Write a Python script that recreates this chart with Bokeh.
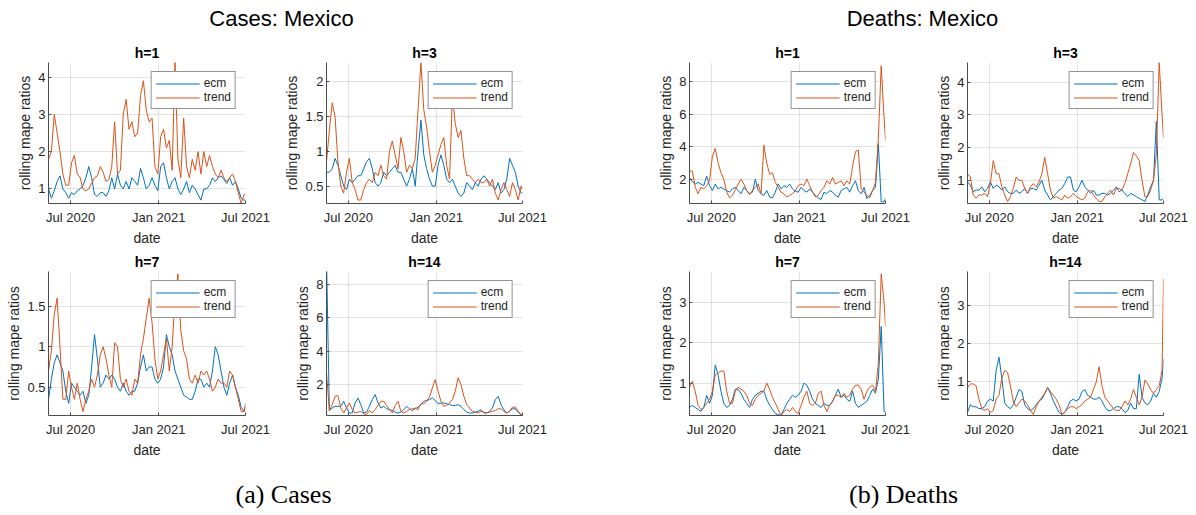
import pandas as pd
from bokeh.plotting import figure
from bokeh.models import Range1d, FixedTicker, DatetimeTickFormatter, NumeralTickFormatter, Label
from bokeh.layouts import row, column
from bokeh.embed import file_html
from bokeh.resources import INLINE

# ---------------- data ----------------
dates = list(pd.date_range("2020-05-16", periods=69, freq="6D")) + [pd.Timestamp("2021-07-01")]
x_start = pd.Timestamp("2020-05-16")
x_end = pd.Timestamp("2021-07-01")
tick_dates = [pd.Timestamp("2020-07-01"), pd.Timestamp("2021-01-01"), pd.Timestamp("2021-07-01")]

cases_h1_ecm = [1.0,0.75,0.95,1.2,1.35,1.0,0.9,0.75,0.9,0.85, 0.95,1.0,1.1,1.3,1.6,1.3,0.85,0.8,0.9,0.9,
                0.8,0.95,1.3,1.0,1.4,1.1,1.0,1.2,1.0,1.3, 1.2,1.1,1.55,1.3,1.0,1.1,1.3,1.1,0.95,1.6,
                1.7,1.3,1.0,1.2,1.3,1.0,0.85,1.0,1.2,0.9, 1.1,1.0,0.85,0.7,1.0,1.0,1.1,1.3,1.2,1.3,
                1.35,1.25,1.15,1.3,1.1,1.2,1.0,0.75,0.7,0.7]
cases_h1_trend = [1.8,2.0,3.0,2.5,2.0,1.4,1.1,1.1,1.7,1.9, 1.4,1.3,1.0,0.95,1.0,1.15,1.3,1.35,1.6,1.45,
                  1.2,1.25,1.6,2.8,1.4,1.5,3.0,3.4,2.6,2.8, 2.4,2.5,3.5,3.9,3.1,2.8,2.9,1.6,1.4,2.4,
                  2.6,2.1,2.3,1.5,4.4,1.8,1.3,2.9,1.6,1.3, 1.8,1.5,2.0,1.4,2.0,1.6,1.9,1.6,1.4,1.3,
                  1.5,1.3,1.2,1.3,1.4,1.2,0.9,0.6,0.85,0.85]

cases_h3_ecm = [0.7,0.7,0.75,0.9,0.8,0.65,0.5,0.45,0.6,0.55, 0.6,0.65,0.65,0.75,0.85,0.9,0.75,0.55,0.5,0.55,
                0.7,0.65,0.7,0.75,0.8,0.7,0.7,0.6,0.5,0.6, 0.75,0.5,1.0,1.45,0.95,0.75,0.6,0.5,0.5,0.8,
                0.95,0.8,0.6,0.55,0.6,0.5,0.4,0.35,0.4,0.55, 0.5,0.45,0.55,0.5,0.6,0.65,0.6,0.55,0.5,0.45,
                0.55,0.4,0.45,0.6,0.9,0.8,0.7,0.5,0.4,0.4]
cases_h3_trend = [0.85,1.3,1.7,1.5,0.85,0.5,0.4,0.7,0.9,0.55, 0.45,0.3,0.3,0.45,0.55,0.6,0.55,0.7,0.65,0.8,
                  0.65,0.6,1.0,1.15,0.95,0.75,1.2,1.0,0.7,0.8, 0.75,0.9,1.6,2.28,1.6,1.35,1.0,0.7,0.8,0.95,
                  1.1,1.2,0.8,0.6,1.8,1.4,1.2,1.3,0.9,0.65, 0.65,0.6,0.55,0.6,0.55,0.55,0.6,0.5,0.6,0.4,
                  0.3,0.45,0.55,0.45,0.35,0.55,0.45,0.3,0.5,0.45]

cases_h7_ecm = [0.35,0.6,0.8,0.9,0.8,0.7,0.45,0.3,0.55,0.5, 0.45,0.4,0.45,0.3,0.4,0.75,1.15,0.85,0.5,0.55,
                0.65,0.6,0.65,0.6,0.5,0.45,0.55,0.45,0.4,0.45, 0.45,0.55,0.75,0.9,0.7,0.75,0.75,0.6,0.55,0.6,
                0.75,1.15,1.0,0.9,0.7,0.6,0.5,0.4,0.38,0.35, 0.35,0.45,0.6,0.6,0.5,0.55,0.5,0.7,1.0,0.9,
                0.7,0.5,0.4,0.55,0.65,0.5,0.4,0.25,0.2,0.25]
cases_h7_trend = [0.7,0.95,1.4,1.6,1.0,0.35,0.35,0.7,0.5,0.35, 0.55,0.35,0.2,0.35,0.45,0.6,0.5,0.65,0.9,1.0,
                  0.85,0.65,0.5,1.05,1.0,0.6,0.5,0.6,0.45,0.4, 0.6,0.55,0.9,1.1,1.35,1.6,1.3,0.85,0.6,0.7,
                  0.9,1.1,0.7,1.0,1.6,1.9,1.2,0.95,0.85,0.6, 0.55,0.65,0.55,0.7,0.65,0.7,0.6,0.45,0.5,0.6,
                  0.55,0.55,0.5,0.7,0.65,0.5,0.35,0.2,0.2,0.3]

cases_h14_ecm = [9.5,0.45,0.6,0.7,0.7,0.7,1.0,0.6,0.3,0.3, 0.9,1.2,0.8,0.3,0.35,0.7,1.1,1.4,0.9,0.6,
                 0.7,0.55,0.5,0.45,0.35,0.3,0.35,0.5,0.7,0.55, 0.45,0.55,0.65,0.8,1.0,1.05,1.1,1.2,1.05,0.85,
                 0.9,0.9,0.85,0.8,0.75,0.75,0.8,0.7,0.5,0.35, 0.3,0.3,0.35,0.4,0.5,0.3,0.3,0.4,0.6,1.1,
                 1.3,0.8,0.5,0.3,0.4,0.55,0.55,0.35,0.2,0.15]
cases_h14_trend = [2.7,0.45,0.8,1.3,1.35,0.6,0.3,0.6,0.9,0.5, 0.3,0.35,0.4,0.25,0.2,0.45,0.3,0.5,0.75,1.0,
                   1.0,0.75,0.5,0.3,0.75,1.0,0.4,0.3,0.4,0.5, 0.55,0.6,0.5,0.85,0.85,1.0,1.25,1.8,2.3,1.6,
                   1.0,0.7,0.75,0.9,1.1,1.6,2.4,2.0,1.3,0.8, 0.6,0.4,0.35,0.3,0.4,0.35,0.3,0.35,0.4,0.45,
                   0.55,0.55,0.4,0.3,0.4,0.65,0.65,0.4,0.2,0.15]

deaths_h1_ecm = [2.1,1.85,1.7,1.8,1.7,1.6,2.2,1.6,1.3,1.7, 1.4,1.5,1.4,1.3,1.2,1.4,1.5,1.3,1.1,1.5,
                 1.3,1.1,1.2,2.0,1.3,1.1,1.0,1.3,0.9,0.85, 1.2,1.7,1.4,1.6,1.5,1.7,1.4,1.25,1.2,1.5,
                 1.3,1.2,1.4,1.2,1.0,0.85,0.75,1.2,1.1,1.3, 1.2,1.0,0.9,1.3,1.4,1.5,1.2,1.6,1.9,1.3,
                 1.1,1.5,0.8,1.0,1.3,1.5,4.2,0.6,0.6,0.8]
deaths_h1_trend = [2.5,2.5,1.5,1.1,1.5,1.4,1.6,1.9,3.4,3.9, 3.0,2.4,2.0,1.2,0.85,1.0,1.35,1.7,2.0,1.7,
                   1.3,1.05,1.3,1.5,1.7,1.1,4.1,3.0,2.3,2.4, 1.8,1.5,1.2,1.1,0.9,1.0,1.1,1.3,1.6,1.7,
                   1.6,2.0,1.6,1.2,0.9,1.0,1.3,1.5,1.9,1.7, 2.1,1.7,1.8,1.9,1.6,1.9,1.7,2.8,3.7,3.8,
                   1.4,1.2,1.0,0.85,1.3,1.8,4.5,9.0,5.8,4.4]

deaths_h3_ecm = [0.95,0.85,0.65,0.7,0.7,0.8,0.65,0.75,0.95,0.75, 0.85,0.8,0.7,0.8,0.65,0.6,0.6,0.7,0.6,0.65,
                 0.75,0.6,0.75,0.75,0.7,0.85,1.0,0.7,0.55,0.4, 0.5,0.6,0.7,0.75,0.9,1.1,1.1,0.7,0.65,0.8,
                 1.0,0.8,0.7,0.6,0.7,0.55,0.55,0.6,0.6,0.55, 0.6,0.7,0.8,0.65,0.7,0.6,0.5,0.6,0.55,0.5,
                 0.45,0.4,0.35,0.55,0.8,1.0,2.8,0.4,0.4,0.45]
deaths_h3_trend = [1.2,1.1,0.55,0.45,0.55,0.55,0.6,0.5,0.9,1.6, 1.2,1.2,0.8,0.55,0.35,0.5,0.75,1.1,1.0,1.0,
                   0.75,0.6,0.8,0.9,0.8,0.95,1.2,1.7,1.2,0.7, 0.45,0.5,0.45,0.4,0.55,0.45,0.5,0.6,0.5,0.45,
                   0.4,0.45,0.65,0.7,0.55,0.45,0.35,0.35,0.5,0.6, 0.7,0.55,0.75,0.75,0.7,0.9,1.2,1.5,1.85,1.75,
                   1.6,1.0,0.5,0.5,0.7,1.0,1.8,4.6,3.0,2.3]

deaths_h7_ecm = [0.4,0.45,0.4,0.35,0.3,0.4,0.7,0.5,0.7,1.45, 1.2,0.8,0.5,0.4,0.45,0.6,0.85,0.85,0.75,0.6,
                 0.5,0.4,0.6,0.7,0.75,0.8,0.8,0.6,0.45,0.35, 0.25,0.22,0.2,0.35,0.5,0.6,0.7,0.65,0.7,0.8,
                 1.0,0.95,0.8,0.6,0.5,0.45,0.4,0.5,0.45,0.45, 0.55,0.7,0.85,0.65,0.7,0.6,0.55,0.8,0.5,0.4,
                 0.45,0.5,0.55,0.7,0.85,0.75,1.1,2.4,0.3,0.3]
deaths_h7_trend = [0.9,1.05,0.8,0.45,0.35,0.4,0.5,0.6,0.8,1.2, 1.25,1.3,1.3,0.8,0.5,0.5,0.8,0.9,0.85,0.8,
                   0.7,0.5,0.45,0.6,0.7,0.75,0.8,1.0,0.85,0.65, 0.5,0.35,0.2,0.3,0.35,0.3,0.4,0.3,0.25,0.45,
                   0.65,0.8,0.5,0.45,0.5,0.75,0.8,0.45,0.3,0.45, 0.55,0.7,0.7,0.65,0.75,0.65,0.7,0.85,0.95,0.95,
                   0.85,0.6,0.8,0.9,0.95,0.8,1.5,3.7,3.0,2.4]

deaths_h14_ecm = [0.2,0.4,0.35,0.35,0.3,0.3,0.35,0.5,0.55,0.5, 1.3,1.65,1.1,0.45,0.35,0.3,0.4,0.6,0.8,0.75,
                  0.4,0.3,0.25,0.3,0.4,0.5,0.55,0.7,0.85,0.7, 0.5,0.35,0.2,0.15,0.2,0.35,0.5,0.55,0.5,0.55,
                  0.75,0.8,0.65,0.6,0.55,0.55,0.6,0.5,0.35,0.25, 0.25,0.3,0.35,0.35,0.3,0.2,0.25,0.45,0.3,0.3,
                  1.2,0.6,0.45,0.4,0.5,0.7,0.6,0.75,1.1,1.6]
deaths_h14_trend = [0.85,0.95,0.95,0.9,0.55,0.3,0.25,0.3,0.2,0.25, 0.55,0.65,1.1,1.3,1.25,0.9,0.5,0.35,0.45,0.55,
                    0.5,0.4,0.25,0.15,0.35,0.5,0.6,0.7,0.85,0.75, 0.65,0.55,0.4,0.15,0.2,0.3,0.35,0.35,0.3,0.35,
                    0.4,0.5,0.55,0.6,0.8,1.0,1.4,0.9,0.6,0.5, 0.4,0.3,0.25,0.25,0.35,0.5,0.4,0.55,0.8,0.6,
                    0.4,0.6,1.05,0.95,0.8,0.7,0.8,0.9,1.3,3.7]

panels = [
    ("h=1", cases_h1_ecm, cases_h1_trend, (0.61, 4.39), [1, 2, 3, 4]),
    ("h=3", cases_h3_ecm, cases_h3_trend, (0.25, 2.28), [0.5, 1, 1.5, 2]),
    ("h=1", deaths_h1_ecm, deaths_h1_trend, (0.5, 9.2), [2, 4, 6, 8]),
    ("h=3", deaths_h3_ecm, deaths_h3_trend, (0.29, 4.6), [1, 2, 3, 4]),
    ("h=7", cases_h7_ecm, cases_h7_trend, (0.15, 1.93), [0.5, 1, 1.5]),
    ("h=14", cases_h14_ecm, cases_h14_trend, (0.15, 8.76), [2, 4, 6, 8]),
    ("h=7", deaths_h7_ecm, deaths_h7_trend, (0.2, 3.76), [1, 2, 3]),
    ("h=14", deaths_h14_ecm, deaths_h14_trend, (0.12, 3.9), [1, 2, 3]),
]

# ---------------- layout / styling ----------------
FONT = "Liberation Sans"
TXT = "#262626"
ECM_C = "#0072BD"
TREND_C = "#D95319"

# column geometry: (canvas width, left border, right border); page starts at x=0
cols = [(280, 48, 35), (320, 46, 78), (315, 89, 30), (273, 52, 25)]
# row geometry: (top border, frame height, bottom border)
rows_geo = [(30, 145, 41), (23, 146, 43)]

xt = FixedTicker(ticks=[t.value / 1e6 for t in tick_dates])
fmt = "%b %Y"


def make_panel(spec, col, rg):
    title, ecm, trend, ylim, yticks = spec
    w, lb, rb = col
    tb, fh, bb = rg
    p = figure(width=w, height=tb + fh + bb, x_axis_type="datetime",
               x_range=Range1d(x_start, x_end), y_range=Range1d(*ylim),
               output_backend="svg", toolbar_location=None,
               min_border_left=lb, min_border_right=rb,
               min_border_top=tb, min_border_bottom=bb,
               background_fill_color="white", border_fill_color="white")
    p.outline_line_color = None
    p.line(dates, ecm, color=ECM_C, line_width=1, legend_label="ecm")
    p.line(dates, trend, color=TREND_C, line_width=1, legend_label="trend")

    p.title.text = title
    p.title.align = "center"
    p.title.text_font = FONT
    p.title.text_font_size = "14px"
    p.title.text_font_style = "bold"
    p.title.text_color = "black"
    p.title.standoff = 4

    p.xaxis.ticker = xt
    p.xgrid.ticker = xt
    p.xaxis.formatter = DatetimeTickFormatter(days=fmt, months=fmt, years=fmt, hours=fmt)
    p.yaxis.ticker = FixedTicker(ticks=yticks)
    p.ygrid.ticker = FixedTicker(ticks=yticks)
    p.yaxis.formatter = NumeralTickFormatter(format="0.[0]")
    p.xaxis.axis_label = "date"
    p.yaxis.axis_label = "rolling mape ratios"
    for ax in (p.xaxis, p.yaxis):
        ax.axis_line_color = "#4d4d4d"
        ax.major_tick_line_color = "#4d4d4d"
        ax.major_tick_in = 3
        ax.major_tick_out = 0
        ax.minor_tick_line_color = None
        ax.major_label_text_font = FONT
        ax.major_label_text_font_size = "13px"
        ax.major_label_text_color = TXT
        ax.axis_label_text_font = FONT
        ax.axis_label_text_font_size = "14px"
        ax.axis_label_text_font_style = "normal"
        ax.axis_label_text_color = TXT
        ax.axis_label_standoff = 2
    p.xaxis.major_label_standoff = 6
    p.yaxis.major_label_standoff = 3
    p.grid.grid_line_color = "#262626"
    p.grid.grid_line_alpha = 0.13

    lg = p.legend[0]
    lg.location = "top_right"
    lg.margin = 9
    lg.padding = 4
    lg.spacing = 0
    lg.glyph_width = 44
    lg.glyph_height = 13
    lg.label_height = 13
    lg.label_standoff = 4
    lg.label_text_font = FONT
    lg.label_text_font_size = "12px"
    lg.label_text_color = TXT
    lg.border_line_color = TXT
    lg.border_line_width = 1
    lg.background_fill_color = "white"
    lg.background_fill_alpha = 1.0
    return p


figs = [make_panel(panels[i], cols[i % 4], rows_geo[i // 4]) for i in range(8)]


def strip(height, texts, font, size):
    s = figure(width=1188, height=height, x_range=Range1d(0, 1188), y_range=Range1d(0, height),
               x_axis_location=None, y_axis_location=None, output_backend="svg",
               toolbar_location=None, min_border=0, border_fill_color="white")
    s.grid.visible = False
    s.outline_line_color = None
    for (x, y, t) in texts:
        s.add_layout(Label(x=x, y=y, text=t, text_align="center", text_baseline="middle",
                           text_font=font, text_font_size=size, text_color="black"))
    return s


top = strip(32, [(281, 14, "Cases: Mexico"), (922, 14, "Deaths: Mexico")], FONT, "22px")
bottom = strip(52, [(283, 18, "(a) Cases"), (903, 18, "(b) Deaths")], "Liberation Serif", "26px")

layout = column(top, row(*figs[:4]), row(*figs[4:]), bottom)
open("out.html", "w").write(file_html(layout, INLINE))
